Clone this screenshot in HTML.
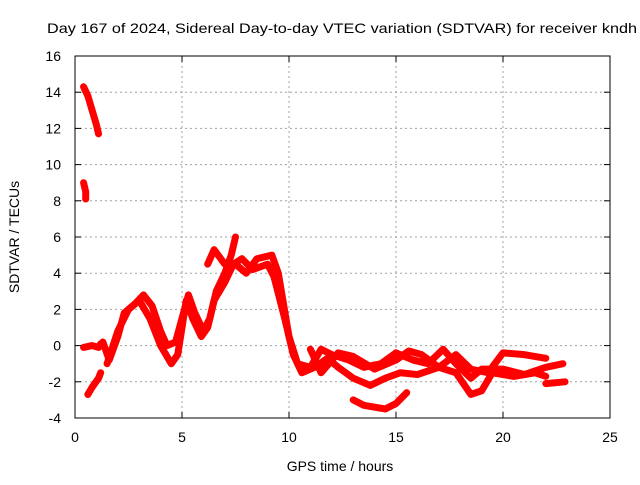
<!DOCTYPE html>
<html><head><meta charset="utf-8"><style>
body{margin:0;background:#fff;}
svg text{font-family:"Liberation Sans",sans-serif;font-size:14px;fill:#000;}
</style></head><body>
<svg width="640" height="480" xmlns="http://www.w3.org/2000/svg">
<text x="47" y="33" textLength="590" lengthAdjust="spacingAndGlyphs">Day 167 of 2024, Sidereal Day-to-day VTEC variation (SDTVAR) for receiver kndh</text>
<g id="grid"></g>
<g id="axes"></g>
<g id="series"></g>
<rect x="75" y="56" width="535" height="362" fill="none" stroke="#000" stroke-width="1"/>
<text x="340" y="471" text-anchor="middle">GPS time / hours</text>
<text transform="translate(19,237) rotate(-90)" text-anchor="middle">SDTVAR / TECUs</text>
</svg>
<script>
const xTicks=[0,5,10,15,20,25];
const yTicks=[-4,-2,0,2,4,6,8,10,12,14,16];
const s1x=[0.4,0.6,0.8,1.0,1.1], s1y=[14.3,13.8,13,12.2,11.7];
const s2x=[0.4,0.5,0.5], s2y=[9.0,8.5,8.1];
const s3x=[0.4,0.8,1.1,1.2], s3y=[-0.1,0,-0.1,0.1];
const s4x=[0.6,0.8,1.1,1.2], s4y=[-2.7,-2.3,-1.8,-1.5];
const s5x=[1.3,1.6,2,2.3,2.8,3.2,3.6,4,4.3,4.7,5,5.3,5.6,6,6.3,6.6,7,7.3,7.5];
const s5y=[0.2,-0.8,0.5,1.8,2.3,2.8,2.2,0.8,0,0.2,1.5,2.8,1.8,0.8,1.5,3.0,4.0,5.0,6.0];
const s6x=[1.5,2,2.5,3,3.5,4,4.5,4.8,5.2,5.5,5.9,6.2,6.5,7,7.4,7.8,8.3,9,9.3,9.8,10.2,10.6,11.2,11.8,12.3,13,13.8,14.5,15.2,16,17,17.8,18.5,19,19.5,20.5,21.5,22];
const s6y=[-1,0.8,2,2.5,1.5,0,-1,-0.5,2.5,1.5,0.5,1,2.5,3.5,4.5,4.8,4.2,4.5,3.8,1.5,-0.5,-1.5,-1.2,-0.7,-1.2,-1.8,-2.2,-1.8,-1.5,-1.6,-1.2,-1.5,-2.7,-2.5,-1.5,-1.7,-1.5,-1.7];
const s7x=[6.2,6.5,7,7.5,8,8.5,9.2,9.5,10,10.4,11,11.5,12,12.8,13.5,14.3,15,15.8,16.5,17.2,17.8,18.5,19,20,21,22,22.8];
const s7y=[4.5,5.3,4.5,4.5,4,4.8,5,4,0.5,-1,-1.2,-0.2,-0.5,-0.8,-1.2,-1.0,-0.4,-0.8,-1,-0.2,-1,-1.8,-1.3,-1.3,-1.6,-1.2,-1];
const s8x=[11,11.5,12.3,13,14,15,15.6,16.2,17,17.8,18.5,19.3,20,21,22];
const s8y=[-0.2,-1.5,-0.4,-0.6,-1.3,-0.8,-0.3,-0.5,-1.2,-0.5,-1.3,-1.5,-0.4,-0.5,-0.7];
const s9x=[13,13.5,14.5,15,15.5], s9y=[-3,-3.3,-3.5,-3.2,-2.6];
const s10x=[22,22.9], s10y=[-2.1,-2.0];
const seriesList=[[s1x,s1y],[s2x,s2y],[s3x,s3y],[s4x,s4y],[s5x,s5y],[s6x,s6y],[s7x,s7y],[s8x,s8y],[s9x,s9y],[s10x,s10y]];

const X=v=>75+v*(535/25), Y=v=>418-(v+4)*(362/20);
const NS="http://www.w3.org/2000/svg";
const grid=document.getElementById('grid'), axes=document.getElementById('axes'), ser=document.getElementById('series');
function mk(tag,attrs,parent){const e=document.createElementNS(NS,tag);for(const k in attrs)e.setAttribute(k,attrs[k]);parent.appendChild(e);return e;}
xTicks.forEach(t=>{
  const x=X(t);
  if(t>0&&t<25){const g=mk('line',{x1:x,x2:x,y1:56,y2:418,stroke:'#a0a0a0','stroke-dasharray':'2,3'},grid);
  
  }
  mk('line',{x1:x,x2:x,y1:418,y2:412,stroke:'#000'},axes);
  mk('line',{x1:x,x2:x,y1:56,y2:62,stroke:'#000'},axes);
  const l=mk('text',{x:x,y:442,'text-anchor':'middle'},axes);l.textContent=t;
  
  
});
yTicks.forEach(t=>{
  const y=Y(t);
  if(t>-4&&t<16){const g=mk('line',{x1:75,x2:610,y1:y,y2:y,stroke:'#a0a0a0','stroke-dasharray':'2,3'},grid);
  
  }
  mk('line',{x1:75,x2:81,y1:y,y2:y,stroke:'#000'},axes);
  mk('line',{x1:610,x2:604,y1:y,y2:y,stroke:'#000'},axes);
  const l=mk('text',{x:61,y:y+5,'text-anchor':'end'},axes);l.textContent=t;
  
  
});
seriesList.forEach(([xs,ys])=>{
  const pts=xs.map((x,i)=>X(x)+','+Y(ys[i])).join(' ');
  const p=mk('polyline',{points:pts,fill:'none',stroke:'#ff0000','stroke-width':7,'stroke-linejoin':'round','stroke-linecap':'round'},ser);
  
  
});
</script>
</body></html>
